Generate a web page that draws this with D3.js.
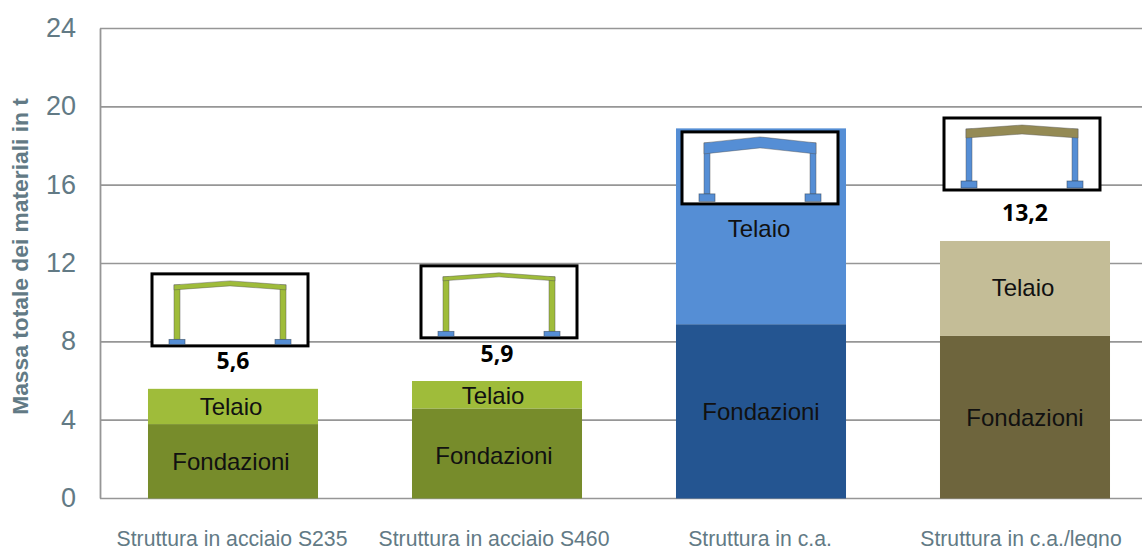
<!DOCTYPE html>
<html><head><meta charset="utf-8">
<script src="https://cdn.jsdelivr.net/npm/d3@7"></script>
<style>
html,body{margin:0;padding:0;background:#fff;overflow:hidden}
svg{display:block}
text{font-family:"Liberation Sans",Arial,sans-serif}
</style></head><body><svg id="c" width="1142" height="548"></svg>
<script>
const categories = ["Struttura in acciaio S235","Struttura in acciaio S460","Struttura in c.a.","Struttura in c.a./legno"];
const fondazioni = [3.8,4.6,8.9,8.3];
const telaio = [1.8,1.4,10.0,4.85];
const totalLabels = ["5,6","5,9","","13,2"];
const totalLabelAt = [7.02,7.38,null,14.58];
const fondLabelAt = [1.86,2.17,4.42,4.11];
const telaioLabelAt = [4.67,5.28,13.8,10.75];
const iconTop = [11.47,11.88,18.72,19.43];
const yTicks = [0,4,8,12,16,20,24];
const colFond = ["#778c2b","#778c2b","#245591","#6e653d"];
const colTel = ["#9fbc3a","#9fbc3a","#558ed5","#c4bd97"];
const beamCol = ["#9fbc3a","#9fbc3a","#558ed5","#948a54"];
const colCol = ["#9fbc3a","#9fbc3a","#558ed5","#558ed5"];
const beamThick = [5,4,11,9];
const beamPeak = [7,7,5,7];
const baseTop = [65.5,65.5,62,63];
const baseHeight = [5,5,7.5,7];
const iconDx = [-81,-76,-79,-81];
const fondDx = [-2,-3,0,0];
const telaioDx = [-2,-4,-2,-2];
const catDx = [-1,-3,-1,-4];

const svg = d3.select("#c");
const x = d3.scaleBand().domain(categories).range([101,1157]).paddingInner(0.356).paddingOuter(0.178);
const y = d3.scaleLinear().domain([0,24]).range([498.5,28.5]);
const grey = "#969696", tick="#627a85";

svg.append("g").selectAll("line").data(yTicks).join("line")
  .attr("x1",100).attr("x2",1142).attr("y1",d=>y(d)).attr("y2",d=>y(d))
  .attr("stroke",grey).attr("stroke-width",1.6);
svg.append("line").attr("x1",100.5).attr("x2",100.5).attr("y1",y(24)).attr("y2",y(0)).attr("stroke",grey).attr("stroke-width",1.8);

const yAxis = d3.axisLeft(y).tickValues(yTicks).tickSize(0).tickPadding(24).tickFormat(d3.format("d"));
const ga = svg.append("g").attr("transform","translate(100,0)").call(yAxis);
ga.select(".domain").remove();
ga.selectAll("text").attr("font-size",27).attr("fill",tick).attr("dy","0.3em").style("font-family",'"Liberation Sans",Arial,sans-serif');

svg.append("text").attr("transform","translate(28,256.5) rotate(-90)").attr("text-anchor","middle")
  .attr("font-size",22.8).attr("font-weight","bold").attr("fill",tick).text("Massa totale dei materiali in t");

const g = svg.selectAll("g.bar").data(categories).join("g").attr("class","bar");
g.append("rect").attr("x",d=>x(d)).attr("width",x.bandwidth())
  .attr("y",(d,i)=>y(fondazioni[i])).attr("height",(d,i)=>y(0)-y(fondazioni[i])).attr("fill",(d,i)=>colFond[i]);
g.append("rect").attr("x",d=>x(d)).attr("width",x.bandwidth())
  .attr("y",(d,i)=>y(fondazioni[i]+telaio[i])).attr("height",(d,i)=>y(fondazioni[i])-y(fondazioni[i]+telaio[i])).attr("fill",(d,i)=>colTel[i]);

g.append("text").attr("x",(d,i)=>x(d)+x.bandwidth()/2+fondDx[i]).attr("y",(d,i)=>y(fondLabelAt[i])).attr("dy","0.35em")
  .attr("text-anchor","middle").attr("font-size",24).attr("fill","#111").text("Fondazioni");
g.append("text").attr("x",(d,i)=>x(d)+x.bandwidth()/2+telaioDx[i]).attr("y",(d,i)=>y(telaioLabelAt[i])).attr("dy","0.35em")
  .attr("text-anchor","middle").attr("font-size",24).attr("fill","#111").text("Telaio");

// Frame pictograms: local coordinates relative to the white box
const ic = g.append("g").attr("transform",(d,i)=>`translate(${x(d)+x.bandwidth()/2+iconDx[i]},${y(iconTop[i])})`);
ic.append("rect").attr("width",156).attr("height",72).attr("fill","#fff").attr("stroke","#000").attr("stroke-width",3);
ic.each(function(d,i){
  const s=d3.select(this), t=beamThick[i], c=6;
  const L=22,R=134,top=11,peak=beamPeak[i],foot=baseTop[i];
  [L,R-c].forEach(px=>{
    s.append("rect").attr("x",px).attr("y",top).attr("width",c).attr("height",foot-top)
      .attr("fill",colCol[i]).attr("stroke","#555").attr("stroke-opacity",.55).attr("stroke-width",.8);
    s.append("rect").attr("x",px+3-8).attr("y",foot).attr("width",16).attr("height",baseHeight[i])
      .attr("fill","#558ed5").attr("stroke","#345").attr("stroke-opacity",.65).attr("stroke-width",.8);
  });
  s.append("polygon").attr("points",[[L,top],[(L+R)/2,peak],[R,top],[R,top+t],[(L+R)/2,peak+t],[L,top+t]].join(" "))
    .attr("fill",beamCol[i]).attr("stroke","#555").attr("stroke-opacity",.55).attr("stroke-width",.8);
});

g.append("text").attr("x",d=>x(d)+x.bandwidth()/2)
  .attr("y",(d,i)=>totalLabelAt[i]===null?0:y(totalLabelAt[i])).attr("dy","0.35em")
  .attr("text-anchor","middle").attr("font-size",23).attr("font-weight","bold").attr("fill","#000")
  .style("font-family",'"Noto Sans","Open Sans",sans-serif').text((d,i)=>totalLabels[i]);

const xAxis = d3.axisBottom(x).tickSize(0).tickPadding(32);
const gx = svg.append("g").attr("transform","translate(0,"+y(0)+")").call(xAxis);
gx.select(".domain").remove();
gx.selectAll("text").attr("font-size",21.2).attr("fill",tick).attr("dx",(d,i)=>catDx[i]).style("font-family",'"Liberation Sans",Arial,sans-serif');
</script></body></html>
